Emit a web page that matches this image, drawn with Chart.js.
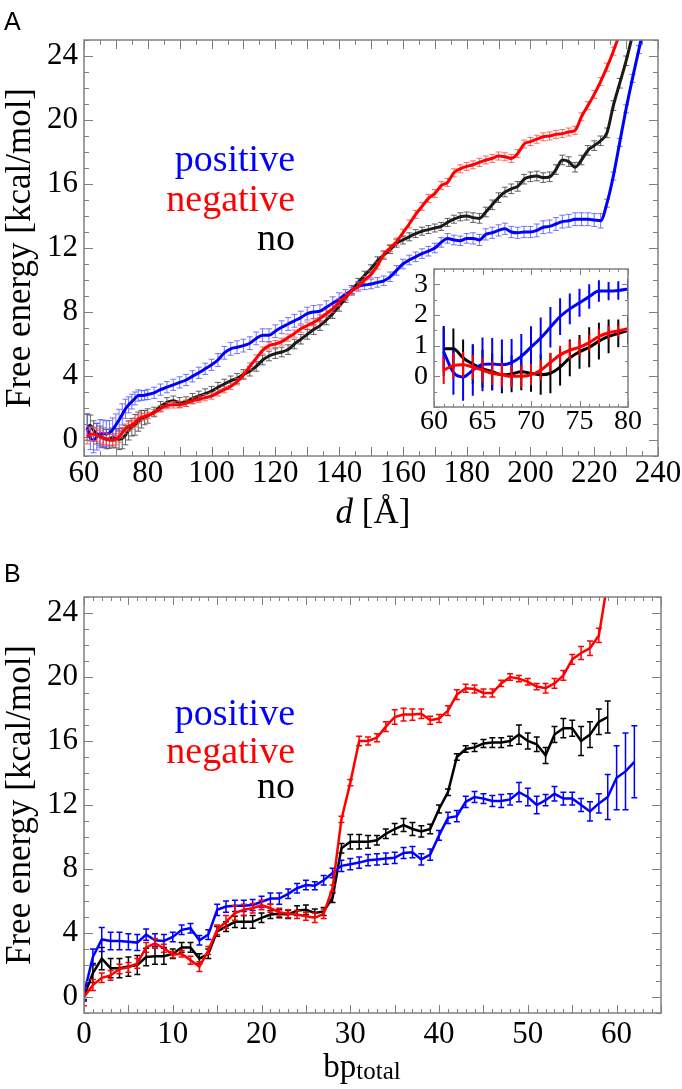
<!DOCTYPE html>
<html><head><meta charset="utf-8">
<script src="https://cdn.jsdelivr.net/npm/chart.js@4.4.1/dist/chart.umd.min.js"></script>
<style>
html,body{margin:0;padding:0;background:#fff;}
body{width:682px;height:1089px;position:relative;overflow:hidden;}
canvas{position:absolute;}
.t{position:absolute;white-space:nowrap;line-height:1;font-family:'Liberation Serif',serif;color:#000;}
</style></head><body>
<canvas id="cA" width="682" height="545" style="left:0;top:0;width:682px;height:545px"></canvas>
<canvas id="cI" width="250" height="178" style="left:396px;top:262px;width:250px;height:178px"></canvas>
<canvas id="cB" width="682" height="544" style="left:0;top:545px;width:682px;height:544px"></canvas>
<div class="t" style="left:4px;top:9px;font-family:'Liberation Sans',sans-serif;font-size:25px">A</div>
<div class="t" style="left:4px;top:561px;font-family:'Liberation Sans',sans-serif;font-size:25px">B</div>
<div class="t" style="right:387px;top:139px;font-size:38px;color:#0000ff">positive</div>
<div class="t" style="right:387px;top:179px;font-size:38px;color:#ff0000">negative</div>
<div class="t" style="right:387px;top:218px;font-size:38px;color:#000">no</div>
<div class="t" style="right:387px;top:693px;font-size:38px;color:#0000ff">positive</div>
<div class="t" style="right:387px;top:731px;font-size:38px;color:#ff0000">negative</div>
<div class="t" style="right:387px;top:766px;font-size:38px;color:#000">no</div>
<div class="t" style="left:0;width:746px;text-align:center;top:494px;font-size:35px"><i>d</i> [Å]</div>
<div class="t" style="left:0;width:724px;text-align:center;top:1050px;font-size:33px">bp<span style="font-size:25px;position:relative;top:2px">total</span></div>
<script>
// ---------- Panel A data (d in Å) ----------
const dFine = [61,62,63,64,65,66,67,68,69,70,71,72,73,74,75,76,77,78,79,80];
const dCoarse = [82,84,86,88,90,92,94,96,98,100,102,104,106,108,110,112,114,116,118,120,122,124,126,128,130,132,134,136,138,140,142,144,146,148,150,152,154,156,158,160,162,164,166,168,170,172,174,176,178,180,182,184,186,188,190,192,194,196,198,200,202,204,206,208,210,212,214,216,218,220,222,224,226,228,230,232,234,236];

const posFine    = [0.8,0.13,-0.02,0.2,0.39,0.4,0.38,0.45,0.65,0.95,1.25,1.6,1.95,2.2,2.4,2.6,2.78,2.78,2.8,2.85];
const posFineErr = [0.8,0.73,0.78,0.83,0.88,0.85,0.82,0.77,0.73,0.68,0.67,0.66,0.6,0.5,0.46,0.4,0.35,0.3,0.3,0.32];
const negFine    = [0.2,0.35,0.38,0.3,0.2,0.1,0.05,0.0,0.0,0.05,0.2,0.45,0.7,0.85,0.95,1.1,1.3,1.42,1.48,1.55];
const negFineErr = [0.45,0.42,0.42,0.4,0.4,0.38,0.38,0.36,0.36,0.35,0.33,0.32,0.3,0.3,0.28,0.27,0.25,0.22,0.2,0.2];
const noFine     = [0.9,0.9,0.6,0.4,0.25,0.15,0.05,0.08,0.15,0.1,0.05,0.1,0.3,0.6,0.8,0.95,1.15,1.3,1.4,1.5];
const noFineErr  = [0.74,0.66,0.6,0.65,0.62,0.6,0.6,0.6,0.6,0.6,0.65,0.65,0.6,0.6,0.55,0.65,0.6,0.55,0.45,0.45];

const posCoarse = [2.95,3.15,3.3,3.45,3.6,3.75,3.98,4.2,4.45,4.7,
 5.0,5.45,5.7,5.8,5.9,6.05,6.35,6.55,6.55,6.8,
 7.05,7.25,7.45,7.65,7.9,8.0,8.05,8.3,8.55,8.8,
 9.1,9.35,9.6,9.7,9.75,9.85,9.95,10.2,10.6,11.0,
 11.25,11.45,11.65,11.8,12.0,12.35,12.6,12.5,12.45,12.6,
 12.6,12.5,12.85,12.95,13.1,13.2,13.0,12.95,13.0,13.0,
 13.1,13.3,13.35,13.5,13.65,13.7,13.8,13.8,13.8,13.75,
 13.7,14.8,16.5,18.6,20.7,22.6,24.4,26.2];
const posCoarseErr = [0.35,0.35,0.35,0.35,0.35,0.35,0.35,0.35,0.35,0.35,
 0.4,0.4,0.4,0.4,0.4,0.4,0.4,0.4,0.4,0.4,
 0.4,0.4,0.4,0.4,0.4,0.4,0.4,0.4,0.4,0.4,
 0.3,0.3,0.3,0.3,0.3,0.3,0.3,0.3,0.3,0.3,
 0.3,0.3,0.3,0.3,0.3,0.3,0.3,0.3,0.3,0.3,
 0.35,0.35,0.35,0.35,0.35,0.35,0.35,0.35,0.35,0.35,
 0.4,0.4,0.4,0.4,0.4,0.4,0.4,0.4,0.4,0.4,
 0.45,0.25,0.25,0.25,0.25,0.25,0.25,0.25];
const negCoarse = [1.7,1.95,2.15,2.2,2.2,2.3,2.45,2.55,2.65,2.75,
 2.95,3.15,3.35,3.65,4.05,4.6,5.1,5.6,5.9,6.0,
 6.15,6.4,6.65,6.95,7.15,7.35,7.6,7.9,8.2,8.6,
 8.95,9.3,9.6,10.0,10.35,10.9,11.6,12.0,12.4,12.95,
 13.5,14.1,14.6,15.1,15.4,15.9,16.1,16.7,16.95,17.1,
 17.2,17.35,17.5,17.6,17.75,17.7,17.6,17.9,18.5,18.65,
 18.8,18.95,19.0,19.1,19.15,19.25,19.35,20.2,20.9,21.6,
 22.4,23.3,24.3,25.4,26.5];
const negCoarseErr = [0.2,0.2,0.2,0.2,0.2,0.2,0.2,0.2,0.2,0.2,
 0.2,0.2,0.2,0.2,0.2,0.22,0.22,0.22,0.22,0.22,
 0.22,0.22,0.22,0.22,0.22,0.22,0.22,0.22,0.22,0.22,
 0.22,0.22,0.22,0.22,0.22,0.22,0.22,0.22,0.22,0.22,
 0.25,0.25,0.25,0.25,0.25,0.25,0.25,0.25,0.25,0.25,
 0.25,0.25,0.25,0.25,0.25,0.25,0.25,0.25,0.25,0.25,
 0.25,0.25,0.25,0.25,0.25,0.25,0.25,0.25,0.25,0.25,
 0.25,0.25,0.25,0.25,0.25];
const noCoarse = [1.75,2.1,2.35,2.45,2.35,2.4,2.6,2.75,2.9,3.05,
 3.3,3.5,3.7,3.85,4.1,4.3,4.6,5.0,5.25,5.4,
 5.5,5.65,6.0,6.3,6.6,6.9,7.15,7.5,7.9,8.35,
 8.85,9.4,9.85,10.3,10.7,11.2,11.55,11.9,12.3,12.5,
 12.7,12.9,13.05,13.15,13.25,13.35,13.6,13.8,13.95,14.0,
 13.9,13.85,14.25,14.7,15.15,15.5,15.7,15.85,16.3,16.45,
 16.5,16.4,16.45,16.9,17.5,17.4,17.05,17.5,18.1,18.4,
 18.7,19.2,20.9,22.3,23.7,25.3];
const noCoarseErr = [0.3,0.3,0.3,0.3,0.3,0.3,0.3,0.3,0.3,0.3,
 0.3,0.3,0.3,0.3,0.3,0.3,0.3,0.3,0.3,0.3,
 0.3,0.3,0.3,0.3,0.3,0.3,0.3,0.3,0.3,0.3,
 0.25,0.25,0.25,0.25,0.25,0.25,0.25,0.25,0.25,0.25,
 0.25,0.25,0.25,0.25,0.25,0.25,0.25,0.25,0.25,0.25,
 0.3,0.3,0.3,0.3,0.3,0.3,0.3,0.3,0.3,0.3,
 0.3,0.3,0.3,0.3,0.3,0.3,0.3,0.3,0.3,0.3,
 0.3,0.3,0.3,0.3,0.3,0.3];

// ---------- Panel B data (bp_total) ----------
const bp = [0,1,2,3,4,5,6,7,8,9,10,11,12,13,14,15,16,17,18,19,20,21,22,23,24,25,26,27,28,29,30,31,32,33,34,35,36,37,38,39,40,41,42,43,44,45,46,47,48,49,50,51,52,53,54,55,56,57,58,59,60,61,62];
const posB = [0.2,2.5,3.6,3.5,3.5,3.45,3.4,3.9,3.55,3.5,
 3.75,4.2,4.3,3.55,3.9,5.45,5.65,5.7,5.7,5.75,
 5.95,6.15,6.15,6.45,6.8,7.0,6.95,7.3,7.75,8.2,
 8.3,8.4,8.55,8.6,8.65,8.7,9.0,9.05,8.6,8.9,
 10.1,11.2,11.3,12.2,12.5,12.4,12.25,12.25,12.35,12.8,
 12.5,12.0,12.3,12.7,12.4,12.4,12.0,11.6,12.1,12.5,
 13.7,14.1,14.7];
const posBErr = [0.35,0.5,0.75,0.55,0.55,0.5,0.5,0.35,0.4,0.4,
 0.3,0.3,0.3,0.3,0.3,0.35,0.35,0.35,0.35,0.35,
 0.35,0.35,0.35,0.3,0.3,0.3,0.25,0.3,0.3,0.35,
 0.35,0.35,0.35,0.35,0.35,0.35,0.35,0.35,0.35,0.35,
 0.3,0.35,0.35,0.35,0.35,0.3,0.35,0.4,0.35,0.6,
 0.55,0.55,0.35,0.45,0.4,0.4,0.4,0.6,0.6,1.4,
 2.0,2.4,2.25];
const noB = [0.05,1.5,2.4,1.8,1.8,1.9,2.0,2.5,2.55,2.55,
 2.7,3.1,3.1,2.4,2.7,4.1,4.4,4.7,4.7,4.7,
 4.95,5.15,5.2,5.15,5.4,5.45,5.25,5.35,6.2,9.3,
 9.7,9.7,9.7,9.8,10.2,10.5,10.75,10.5,10.35,10.5,
 11.75,12.8,15.0,15.5,15.6,15.85,15.9,15.9,16.0,16.4,
 16.0,15.8,15.1,16.4,16.8,16.8,16.0,16.4,17.2,17.5];
const noBErr = [0.3,0.6,0.7,0.6,0.6,0.6,0.6,0.55,0.5,0.5,
 0.3,0.3,0.3,0.3,0.3,0.3,0.3,0.35,0.4,0.4,
 0.3,0.25,0.25,0.25,0.3,0.3,0.25,0.25,0.3,0.3,
 0.45,0.45,0.4,0.3,0.3,0.35,0.4,0.4,0.35,0.3,
 0.25,0.2,0.2,0.2,0.25,0.25,0.3,0.3,0.3,0.6,
 0.5,0.45,0.5,0.5,0.6,0.5,0.9,0.8,0.8,1.0];
const negB = [0.0,0.75,1.2,1.35,1.75,1.85,2.1,3.1,3.35,3.05,
 2.65,2.7,2.3,1.9,2.9,4.2,4.7,5.25,5.45,5.55,
 5.75,5.55,5.3,5.2,5.15,5.05,4.95,5.2,6.8,11.1,
 13.4,16.0,16.0,16.2,16.9,17.5,17.65,17.65,17.7,17.3,
 17.4,17.9,18.9,19.3,19.25,19.0,19.0,19.6,20.0,19.9,
 19.7,19.4,19.3,19.6,20.1,21.1,21.5,21.8,22.6,26.0];
const negBErr = [0.55,0.35,0.3,0.3,0.3,0.3,0.3,0.3,0.3,0.25,
 0.2,0.2,0.25,0.3,0.25,0.3,0.4,0.45,0.35,0.3,
 0.3,0.25,0.25,0.25,0.25,0.25,0.3,0.3,0.2,0.2,
 0.2,0.3,0.25,0.25,0.3,0.45,0.4,0.35,0.3,0.25,
 0.25,0.3,0.3,0.25,0.25,0.25,0.25,0.2,0.2,0.2,
 0.2,0.2,0.3,0.3,0.3,0.3,0.4,0.45,0.45,0.4];

// ---------- tick labels ----------
const yTicksMain = [0,4,8,12,16,20,24];
const xTicksA = [60,80,100,120,140,160,180,200,220,240];
const xTicksB = [0,10,20,30,40,50,60];
const xTicksInset = [60,65,70,75,80];
const yTicksInset = [0,1,2,3];

const BLUE = '#0000ff', RED = '#ff0000', BLACK = '#000000';
const SERIF = "'Liberation Serif', 'Times New Roman', serif";
Chart.defaults.font.family = SERIF;
Chart.defaults.color = '#000';

function pts(xs, ys){ return ys.map((v,i)=>({x:xs[i], y:v})); }
const dAll = dFine.concat(dCoarse);

const errorBars = {
  id:'errorBars',
  beforeDatasetDraw(chart, args){
    const ds = chart.data.datasets[args.index];
    if(!ds.errors) return;
    const meta = args.meta;
    const xs = chart.scales[meta.xAxisID], ys = chart.scales[meta.yAxisID];
    const a = chart.chartArea, ctx = chart.ctx;
    ctx.save();
    ctx.beginPath(); ctx.rect(a.left, a.top, a.right-a.left, a.bottom-a.top); ctx.clip();
    ctx.strokeStyle = ds.errorColor; ctx.lineWidth = ds.errorWidth;
    ctx.beginPath();
    const c = ds.capHalf || 0;
    ds.data.forEach((p,j)=>{
      const e = ds.errors[j]; if(e == null) return;
      const px = xs.getPixelForValue(p.x);
      const y1 = ys.getPixelForValue(p.y - e), y2 = ys.getPixelForValue(p.y + e);
      ctx.moveTo(px,y1); ctx.lineTo(px,y2);
      if(c){ ctx.moveTo(px-c,y1); ctx.lineTo(px+c,y1); ctx.moveTo(px-c,y2); ctx.lineTo(px+c,y2); }
    });
    ctx.stroke();
    ctx.restore();
  }
};

const frameTicks = {
  id:'frameTicks',
  beforeDraw(chart, args, o){
    if(o.fill){ const a = chart.chartArea, ctx = chart.ctx; ctx.save(); ctx.fillStyle = o.fill; ctx.fillRect(a.left,a.top,a.right-a.left,a.bottom-a.top); ctx.restore(); }
  },
  afterDatasetsDraw(chart, args, o){
    const ctx = chart.ctx, a = chart.chartArea, x = chart.scales.x, y = chart.scales.y;
    ctx.save();
    ctx.strokeStyle = o.color; ctx.lineWidth = 1;
    ctx.beginPath();
    (o.xMarks||[]).forEach(m=>{
      for(let k = Math.ceil(x.min/m.step - 1e-9); k*m.step <= x.max + 1e-9; k++){
        const px = Math.round(x.getPixelForValue(k*m.step)) + 0.5;
        ctx.moveTo(px, a.bottom); ctx.lineTo(px, a.bottom - m.len);
        ctx.moveTo(px, a.top); ctx.lineTo(px, a.top + m.len);
      }
    });
    (o.yMarks||[]).forEach(m=>{
      for(let k = Math.ceil(y.min/m.step - 1e-9); k*m.step <= y.max + 1e-9; k++){
        const py = Math.round(y.getPixelForValue(k*m.step)) + 0.5;
        ctx.moveTo(a.left, py); ctx.lineTo(a.left + m.len, py);
        ctx.moveTo(a.right, py); ctx.lineTo(a.right - m.len, py);
      }
    });
    ctx.stroke();
    ctx.lineWidth = o.frameWidth || 1.5;
    ctx.strokeRect(a.left, a.top, a.right-a.left, a.bottom-a.top);
    ctx.restore();
  }
};

function fixH(h){ return s => { s.height = h; s.paddingLeft = 0; s.paddingRight = 0; s.paddingTop = 0; s.paddingBottom = 0; }; }
function fixW(w){ return s => { s.width = w; s.paddingLeft = 0; s.paddingRight = 0; s.paddingTop = 0; s.paddingBottom = 0; }; }
function setTicks(arr){ return s => { s.ticks = arr.map(v=>({value:v})); }; }

function lineDs(label, data, color, errs, width, errColor, errWidth, capHalf){
  return { label, data, borderColor: color, backgroundColor: color, borderWidth: width,
    pointRadius: 0, cubicInterpolationMode: 'monotone', fill: false,
    errors: errs, errorColor: errColor, errorWidth: errWidth, capHalf: capHalf };
}

function baseOpts(cfg){
  return {
    responsive: false, animation: false, devicePixelRatio: 1, events: [],
    layout: { padding: cfg.padding },
    plugins: { legend: {display:false}, tooltip: {enabled:false},
      frameTicks: { color: '#808080', frameWidth: 1.5, xMarks: cfg.xMarks, yMarks: cfg.yMarks, fill: cfg.fill } },
    scales: {
      x: { type:'linear', min: cfg.xmin, max: cfg.xmax,
        grid: {display:false, drawTicks:false}, border: {display:false},
        afterBuildTicks: setTicks(cfg.xTicks),
        ticks: { padding: cfg.xPad, autoSkip:false, maxRotation:0, color:'#000',
          font: { family: SERIF, size: cfg.tickSize, lineHeight: 1 } },
        afterFit: fixH(cfg.xH) },
      y: { type:'linear', min: cfg.ymin, max: cfg.ymax,
        grid: {display:false, drawTicks:false}, border: {display:false},
        afterBuildTicks: setTicks(cfg.yTicks),
        ticks: { padding: cfg.yPad, autoSkip:false, color:'#000',
          font: { family: SERIF, size: cfg.tickSize, lineHeight: 1 } },
        title: cfg.yTitle ? { display:true, text: cfg.yTitle, color:'#000', padding: 0,
          font: { family: SERIF, size: 35, lineHeight: 1.2 } } : { display:false },
        afterFit: fixW(cfg.yW) }
    }
  };
}

// ---------- Panel A ----------
new Chart(document.getElementById('cA'), {
  type: 'line',
  data: { datasets: [
    lineDs('negative', pts(dAll, negFine.concat(negCoarse)), RED, negFineErr.concat(negCoarseErr), 3, 'rgba(255,70,70,0.8)', 1, 3),
    lineDs('positive', pts(dAll, posFine.concat(posCoarse)), BLUE, posFineErr.concat(posCoarseErr), 3, 'rgba(80,80,255,0.8)', 1, 3),
    lineDs('no', pts(dAll, noFine.concat(noCoarse)), '#1a1a1a', noFineErr.concat(noCoarseErr), 3, 'rgba(60,60,60,0.8)', 1, 3)
  ]},
  options: baseOpts({ padding:{top:40,right:24,left:0,bottom:0}, xmin:60, xmax:240, ymin:-1, ymax:25,
    xTicks: xTicksA, yTicks: yTicksMain, xPad: 2, yPad: 6, tickSize: 31, xH: 89, yW: 84,
    yTitle: 'Free energy [kcal/mol]',
    xMarks: [{step:5,len:5},{step:10,len:9}], yMarks: [{step:1,len:5},{step:4,len:9}] }),
  plugins: [errorBars, frameTicks]
});

// ---------- Inset ----------
new Chart(document.getElementById('cI'), {
  type: 'line',
  data: { datasets: [
    lineDs('negative', pts(dFine, negFine), RED, negFineErr, 3, RED, 2, 0),
    lineDs('positive', pts(dFine, posFine), BLUE, posFineErr, 3, BLUE, 2, 0),
    lineDs('no', pts(dFine, noFine), BLACK, noFineErr, 3, BLACK, 2, 0)
  ]},
  options: baseOpts({ padding:{top:7,right:18,left:0,bottom:0}, xmin:60, xmax:80, ymin:-1, ymax:3.5,
    xTicks: xTicksInset, yTicks: yTicksInset, xPad: 1, yPad: 6, tickSize: 28, xH: 33, yW: 38,
    yTitle: null, fill: '#ffffff',
    xMarks: [{step:1,len:3},{step:5,len:6}], yMarks: [{step:0.5,len:3},{step:1,len:6}] }),
  plugins: [errorBars, frameTicks]
});

// ---------- Panel B ----------
new Chart(document.getElementById('cB'), {
  type: 'line',
  data: { datasets: [
    Object.assign(lineDs('negative', pts(bp, negB), RED, negBErr, 2.5, RED, 1.5, 3), {cubicInterpolationMode:'default', tension:0}),
    Object.assign(lineDs('positive', pts(bp, posB), BLUE, posBErr, 2.5, BLUE, 1.5, 3), {cubicInterpolationMode:'default', tension:0}),
    Object.assign(lineDs('no', pts(bp, noB), BLACK, noBErr, 2.5, BLACK, 1.5, 3), {cubicInterpolationMode:'default', tension:0})
  ]},
  options: baseOpts({ padding:{top:52,right:21,left:0,bottom:0}, xmin:0, xmax:65, ymin:-1, ymax:25,
    xTicks: xTicksB, yTicks: yTicksMain, xPad: 6, yPad: 6, tickSize: 31, xH: 76, yW: 84,
    yTitle: 'Free energy [kcal/mol]',
    xMarks: [{step:1,len:4},{step:5,len:8}], yMarks: [{step:1,len:5},{step:4,len:9}] }),
  plugins: [errorBars, frameTicks]
});
</script>
</body></html>
